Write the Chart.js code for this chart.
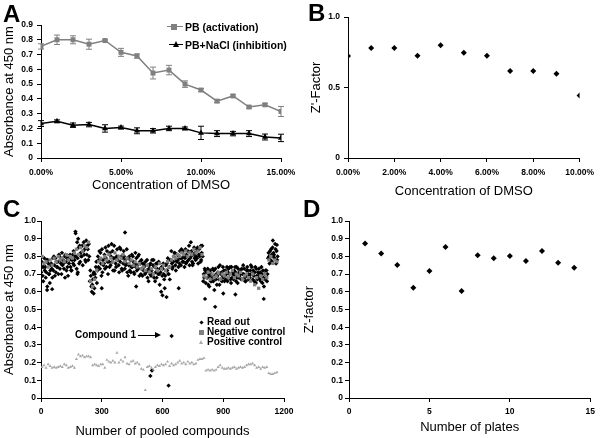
<!DOCTYPE html>
<html>
<head>
<meta charset="utf-8">
<script src="https://cdn.jsdelivr.net/npm/chart.js@4.4.0/dist/chart.umd.min.js"></script>
<style>
  html, body { margin: 0; padding: 0; background: #fff; overflow: hidden; }
  #wrap { position: relative; width: 600px; height: 438px; font-family: "Liberation Sans", Arial, sans-serif; color: #000; }
  canvas { position: absolute; left: 0; top: 0; }
  .letter { position: absolute; font-size: 24px; font-weight: bold; line-height: 24px; }
  .leg { position: absolute; font-weight: bold; white-space: nowrap; }
  .legA { font-size: 10.5px; line-height: 12px; }
  .legC { font-size: 10px; line-height: 10px; }
  .mk { position: absolute; }
  .lineGray { position: absolute; height: 0; border-top: 1.5px solid #808080; }
  .lineBlack { position: absolute; height: 0; border-top: 1.5px solid #000; }
</style>
</head>
<body>
<div id="wrap">
  <canvas id="chartA" width="600" height="438"></canvas>
  <canvas id="chartB" width="600" height="438"></canvas>
  <canvas id="chartC" width="600" height="438"></canvas>
  <canvas id="chartD" width="600" height="438"></canvas>

  <div class="letter" style="left:3px;top:2px;">A</div>
  <div class="letter" style="left:308px;top:1px;">B</div>
  <div class="letter" style="left:3px;top:197px;">C</div>
  <div class="letter" style="left:303px;top:197px;">D</div>

  <!-- legend A -->
  <div class="lineGray" style="left:167px;top:26px;width:16px;"></div>
  <div class="mk" style="left:171px;top:24px;width:6px;height:6px;background:#808080;"></div>
  <div class="leg legA" style="left:185px;top:21px;">PB (activation)</div>
  <div class="lineBlack" style="left:169px;top:44px;width:14px;"></div>
  <div class="mk" style="left:173px;top:41px;width:0;height:0;border-left:3.5px solid transparent;border-right:3.5px solid transparent;border-bottom:6px solid #000;"></div>
  <div class="leg legA" style="left:185px;top:39px;">PB+NaCl (inhibition)</div>

  <!-- legend C -->
  <div class="mk" style="left:200px;top:321px;width:3px;height:3px;background:#000;transform:rotate(45deg);"></div>
  <div class="leg legC" style="left:207px;top:317px;">Read out</div>
  <div class="mk" style="left:199px;top:330px;width:5px;height:5px;background:#808080;"></div>
  <div class="leg legC" style="left:207px;top:327px;">Negative control</div>
  <div class="mk" style="left:199px;top:340px;width:0;height:0;border-left:2.5px solid transparent;border-right:2.5px solid transparent;border-bottom:4px solid #aaa;"></div>
  <div class="leg legC" style="left:207px;top:337px;">Positive control</div>

  <!-- compound 1 annotation -->
  <div class="leg legC" style="left:75px;top:330px;">Compound 1</div>
  <div class="lineBlack" style="left:138px;top:335px;width:18px;border-top-width:1px;"></div>
  <div class="mk" style="left:155px;top:332px;width:0;height:0;border-top:3px solid transparent;border-bottom:3px solid transparent;border-left:6px solid #000;"></div>
</div>

<script>
// ---------- Panel A: absorbance vs DMSO ----------
const dmsoA = [0, 1, 2, 3, 4, 5, 6, 7, 8, 9, 10, 11, 12, 13, 14, 15];
const pbActivation = [0.755, 0.80, 0.80, 0.77, 0.795, 0.715, 0.69, 0.575, 0.595, 0.50, 0.46, 0.385, 0.42, 0.345, 0.36, 0.315];
const pbActivationErr = [0.018, 0.032, 0.027, 0.034, 0.005, 0.027, 0.014, 0.04, 0.032, 0.022, 0.01, 0.01, 0.008, 0.008, 0.008, 0.034];
const pbInhibition = [0.233, 0.248, 0.222, 0.226, 0.20, 0.206, 0.184, 0.184, 0.20, 0.20, 0.17, 0.165, 0.165, 0.165, 0.142, 0.136];
const pbInhibitionErr = [0.02, 0.01, 0.015, 0.015, 0.025, 0.01, 0.02, 0.015, 0.015, 0.01, 0.045, 0.02, 0.015, 0.02, 0.02, 0.025];

// ---------- Panel B: Z'-factor vs DMSO ----------
const dmsoB = [0, 1, 2, 3, 4, 5, 6, 7, 8, 9, 10];
const zFactorDmso = [0.723, 0.78, 0.78, 0.725, 0.80, 0.747, 0.725, 0.617, 0.617, 0.598, 0.444];

// ---------- Panel C: screening read-out ----------
// read-out values per bin of 10 compounds (bins 0..116), four wells per bin
const readOutA = [
  0.71, 0.66, 0.74, 0.63, 0.70, 0.76, 0.72, 0.79, 0.74, 0.80,
  0.70, 0.76, 0.81, 0.74, 0.78, 0.72, 0.83, 0.93, 0.79, 0.86,
  0.80, 0.88, 0.77, 0.84, 0.66, 0.60, 0.71, 0.74, 0.80, 0.73,
  0.84, 0.76, 0.79, 0.70, 0.82, 0.77, 0.86, 0.74, 0.80, 0.77,
  0.72, 0.80, 0.76, 0.69, 0.78, 0.74, 0.70, 0.79, 0.73, 0.76,
  0.69, 0.75, 0.72, 0.66, 0.76, 0.70, 0.74, 0.68, 0.77, 0.71,
  0.73, 0.62, 0.76, 0.70, 0.78, 0.74, 0.82, 0.77, 0.80, 0.75,
  0.83, 0.79, 0.77, 0.86, 0.80, 0.76, 0.82, 0.79, 0.84, 0.78,
  0.66, 0.72, 0.68, 0.63, 0.70, 0.66, 0.73, 0.69, 0.64, 0.71,
  0.68, 0.72, 0.66, 0.70, 0.74, 0.67, 0.71, 0.65, 0.69, 0.73,
  0.70, 0.66, 0.72, 0.68, 0.74, 0.69, 0.65, 0.71, 0.67, 0.70,
  0.63, 0.68, 0.79, 0.83, 0.77, 0.81, 0.76
];
const readOutB = [
  0.77, 0.74, 0.68, 0.78, 0.65, 0.73, 0.80, 0.71, 0.77, 0.73,
  0.82, 0.73, 0.77, 0.69, 0.81, 0.78, 0.75, 0.80, 0.90, 0.77,
  0.86, 0.81, 0.89, 0.78, 0.72, 0.64, 0.62, 0.77, 0.74, 0.82,
  0.71, 0.81, 0.74, 0.86, 0.75, 0.83, 0.72, 0.80, 0.75, 0.84,
  0.79, 0.73, 0.84, 0.75, 0.71, 0.80, 0.76, 0.72, 0.81, 0.70,
  0.76, 0.70, 0.78, 0.73, 0.69, 0.75, 0.66, 0.73, 0.70, 0.60,
  0.76, 0.69, 0.72, 0.74, 0.83, 0.77, 0.75, 0.81, 0.76, 0.84,
  0.77, 0.84, 0.80, 0.75, 0.83, 0.81, 0.78, 0.85, 0.80, 0.82,
  0.70, 0.65, 0.73, 0.69, 0.66, 0.72, 0.67, 0.71, 0.75, 0.66,
  0.72, 0.67, 0.71, 0.74, 0.68, 0.72, 0.66, 0.73, 0.70, 0.67,
  0.73, 0.69, 0.67, 0.72, 0.70, 0.66, 0.73, 0.68, 0.71, 0.65,
  0.70, 0.72, 0.82, 0.78, 0.85, 0.79, 0.83
];
const readOutC = [
  0.74, 0.79, 0.71, 0.76, 0.72, 0.68, 0.75, 0.77, 0.70, 0.78,
  0.75, 0.80, 0.72, 0.79, 0.74, 0.81, 0.78, 0.73, 0.85, 0.82,
  0.75, 0.84, 0.81, 0.87, 0.69, 0.67, 0.70, 0.65, 0.78, 0.76,
  0.78, 0.73, 0.83, 0.77, 0.80, 0.72, 0.79, 0.84, 0.71, 0.80,
  0.76, 0.78, 0.71, 0.80, 0.74, 0.77, 0.82, 0.75, 0.69, 0.78,
  0.72, 0.77, 0.68, 0.75, 0.72, 0.78, 0.71, 0.76, 0.64, 0.74,
  0.70, 0.75, 0.79, 0.67, 0.76, 0.80, 0.72, 0.78, 0.83, 0.79,
  0.80, 0.76, 0.83, 0.79, 0.77, 0.85, 0.80, 0.76, 0.81, 0.86,
  0.68, 0.71, 0.64, 0.72, 0.68, 0.61, 0.70, 0.74, 0.67, 0.69,
  0.66, 0.70, 0.73, 0.67, 0.71, 0.69, 0.74, 0.68, 0.72, 0.70,
  0.68, 0.72, 0.70, 0.75, 0.67, 0.71, 0.69, 0.73, 0.66, 0.72,
  0.67, 0.66, 0.80, 0.84, 0.80, 0.87, 0.78
];
const readOutD = [
  0.69, 0.72, 0.78, 0.70, 0.75, 0.79, 0.69, 0.74, 0.81, 0.76,
  0.78, 0.68, 0.79, 0.76, 0.72, 0.76, 0.80, 0.88, 0.76, 0.80,
  0.83, 0.78, 0.86, 0.80, 0.63, 0.70, 0.68, 0.72, 0.83, 0.69,
  0.75, 0.85, 0.77, 0.74, 0.87, 0.79, 0.76, 0.78, 0.85, 0.73,
  0.83, 0.75, 0.79, 0.72, 0.81, 0.71, 0.74, 0.80, 0.77, 0.73,
  0.74, 0.71, 0.75, 0.70, 0.78, 0.68, 0.76, 0.70, 0.73, 0.69,
  0.67, 0.72, 0.70, 0.78, 0.73, 0.82, 0.78, 0.74, 0.79, 0.77,
  0.74, 0.81, 0.78, 0.82, 0.75, 0.79, 0.84, 0.81, 0.77, 0.80,
  0.73, 0.68, 0.70, 0.66, 0.73, 0.69, 0.64, 0.67, 0.70, 0.74,
  0.69, 0.74, 0.68, 0.65, 0.70, 0.74, 0.68, 0.71, 0.67, 0.75,
  0.66, 0.74, 0.69, 0.70, 0.72, 0.74, 0.67, 0.70, 0.74, 0.68,
  0.72, 0.70, 0.76, 0.81, 0.82, 0.84, 0.80
];
// isolated read-out points [compound, absorbance]
const readOutExtra = [
  [30, 0.61], [55, 0.615], [170, 0.94], [180, 0.70], [182, 0.71], [260, 0.59], [300, 0.62],
  [415, 0.935], [470, 0.63], [600, 0.58], [620, 0.57], [540, 0.125], [548, 0.155], [630, 0.07],
  [645, 0.35], [680, 0.62], [740, 0.88], [790, 0.86], [810, 0.56], [860, 0.515], [900, 0.59],
  [960, 0.585], [1100, 0.56], [1145, 0.89], [1165, 0.865]
];
const negControl = [
  0.80, 0.76, 0.77, 0.74, 0.78, 0.75, 0.79, 0.77, 0.80, 0.78,
  0.79, 0.77, 0.81, 0.78, 0.80, 0.79, 0.82, 0.84, 0.81, 0.85,
  0.83, 0.86, 0.85, 0.88, 0.66, 0.63, 0.67, 0.72, 0.77, 0.79,
  0.76, 0.80, 0.78, 0.81, 0.79, 0.77, 0.82, 0.78, 0.80, 0.79,
  0.81, 0.77, 0.79, 0.76, 0.78, 0.75, 0.77, 0.74, 0.76, 0.73,
  0.74, 0.72, 0.75, 0.71, 0.73, 0.70, 0.74, 0.72, 0.76, 0.73,
  0.75, 0.72, 0.77, 0.74, 0.78, 0.80, 0.79, 0.81, 0.80, 0.82,
  0.81, 0.83, 0.80, 0.82, 0.81, 0.84, 0.82, 0.83, 0.85, 0.81,
  0.69, 0.68, 0.71, 0.67, 0.70, 0.68, 0.69, 0.71, 0.67, 0.70,
  0.69, 0.71, 0.68, 0.70, 0.72, 0.68, 0.70, 0.69, 0.71, 0.67,
  0.69, 0.70, 0.68, 0.66, 0.70, 0.64, 0.68, 0.62, 0.69, 0.67,
  0.70, 0.68, 0.78, 0.80, 0.76, 0.78, 0.77
];
const posControl = [
  0.175, 0.185, 0.17, 0.19, 0.18, 0.17, 0.175, 0.17, 0.175, 0.18,
  0.175, 0.19, 0.185, 0.17, 0.175, 0.18, 0.17, 0.22, 0.245, 0.235,
  0.24, 0.23, 0.235, 0.235, 0.23, 0.185, 0.19, 0.185, 0.18, 0.19,
  0.19, 0.17, 0.215, 0.205, 0.20, 0.21, 0.20, 0.255, 0.20, 0.215,
  0.205, 0.23, 0.195, 0.19, 0.205, 0.21, 0.195, 0.20, 0.19, 0.165,
  0.16, 0.045, 0.175, 0.18, 0.17, 0.16, 0.175, 0.185, 0.18, 0.19,
  0.185, 0.19, 0.205, 0.18, 0.195, 0.185, 0.19, 0.20, 0.21, 0.195,
  0.20, 0.19, 0.205, 0.195, 0.20, 0.19, 0.195, 0.215, 0.22, 0.22,
  0.225, 0.155, 0.16, 0.155, 0.16, 0.155, 0.16, 0.175, 0.185, 0.17,
  0.165, 0.165, 0.17, 0.165, 0.17, 0.175, 0.165, 0.17, 0.175, 0.17,
  0.175, 0.185, 0.19, 0.19, 0.195, 0.185, 0.17, 0.175, 0.165, 0.175,
  0.17, 0.175, 0.14, 0.135, 0.135, 0.14, 0.145
];

// ---------- Panel D: Z'-factor per plate ----------
const plates = [1, 2, 3, 4, 5, 6, 7, 8, 9, 10, 11, 12, 13, 14];
const zFactorPlates = [0.873, 0.817, 0.751, 0.623, 0.717, 0.853, 0.604, 0.806, 0.789, 0.802, 0.774, 0.83, 0.764, 0.736];

Chart.defaults.font.family = '"Liberation Sans", Arial, sans-serif';
Chart.defaults.color = '#000';
Chart.defaults.animation = false;

const tickFont = { size: 8.5, weight: 'bold' };
const titleFont = { size: 13 };

// draw vertical error bars from dataset.errors
const errorBars = {
  id: 'errorBars',
  beforeDatasetsDraw(chart) {
    const ctx = chart.ctx;
    const xs = chart.scales.x, ys = chart.scales.y;
    chart.data.datasets.forEach(ds => {
      if (!ds.errors) return;
      ctx.save();
      ctx.strokeStyle = ds.borderColor;
      ctx.lineWidth = 1;
      ds.data.forEach((p, j) => {
        const e = ds.errors[j];
        const x = xs.getPixelForValue(p.x);
        const y1 = ys.getPixelForValue(p.y - e);
        const y2 = ys.getPixelForValue(p.y + e);
        ctx.beginPath();
        ctx.moveTo(x, y1); ctx.lineTo(x, y2);
        ctx.moveTo(x - 3, y1); ctx.lineTo(x + 3, y1);
        ctx.moveTo(x - 3, y2); ctx.lineTo(x + 3, y2);
        ctx.stroke();
      });
      ctx.restore();
    });
  }
};

function pts(xs, ys) {
  return xs.map((x, i) => ({ x: x, y: ys[i] }));
}
function binPts(vals, offset) {
  return vals.map((v, i) => ({ x: i * 10 + offset, y: v }));
}

// area = [left, top, right, bottom] of the plot, yBoxLeft = left of y axis box
function layout(area, yBoxLeft, xBoxH) {
  return {
    padding: { left: yBoxLeft, top: area[1], right: 600 - area[2], bottom: 438 - area[3] - xBoxH }
  };
}

function yAxis(min, max, step, title, width, tickPad) {
  return {
    type: 'linear', min: min, max: max,
    ticks: { stepSize: step, font: tickFont, padding: tickPad, color: '#000' },
    grid: { drawOnChartArea: false, drawTicks: true, tickLength: 4, color: '#000' },
    border: { color: '#000', width: 1 },
    title: { display: true, text: title, font: titleFont, color: '#000', padding: { top: 2, bottom: 0 } },
    afterFit: s => { s.width = width; }
  };
}

function xAxis(min, max, step, title, height, titlePad, fmt, tickPad) {
  return {
    type: 'linear', min: min, max: max,
    ticks: { stepSize: step, font: tickFont, padding: tickPad, color: '#000', maxRotation: 0, autoSkip: false, callback: fmt },
    grid: { drawOnChartArea: false, drawTicks: true, tickLength: 4, color: '#000' },
    border: { color: '#000', width: 1 },
    title: { display: true, text: title, font: titleFont, color: '#000', padding: { top: 0, bottom: titlePad } },
    afterFit: s => { s.height = height; }
  };
}

const commonOpts = {
  responsive: false,
  plugins: { legend: { display: false }, tooltip: { enabled: false } }
};

// Panel A
new Chart(document.getElementById('chartA'), {
  type: 'line',
  data: {
    datasets: [
      {
        label: 'PB (activation)',
        data: pts(dmsoA, pbActivation),
        errors: pbActivationErr,
        borderColor: '#808080', backgroundColor: '#808080', borderWidth: 1.5,
        pointStyle: 'rect', pointRadius: 3.5, pointBackgroundColor: '#808080', pointBorderWidth: 0
      },
      {
        label: 'PB+NaCl (inhibition)',
        data: pts(dmsoA, pbInhibition),
        errors: pbInhibitionErr,
        borderColor: '#000', backgroundColor: '#000', borderWidth: 1.5,
        pointStyle: 'triangle', pointRadius: 3.5, pointBackgroundColor: '#000', pointBorderWidth: 0
      }
    ]
  },
  options: Object.assign({}, commonOpts, {
    layout: layout([41, 25, 281, 158], 0, 37),
    scales: {
      x: xAxis(0, 15, 5, 'Concentration of DMSO', 37, 2, v => v.toFixed(2) + '%', 6),
      y: yAxis(0, 0.9, 0.1, 'Absorbance at 450 nm', 41, 4)
    }
  }),
  plugins: [errorBars]
});

// Panel B
new Chart(document.getElementById('chartB'), {
  type: 'scatter',
  data: {
    datasets: [{
      label: "Z'-Factor",
      data: pts(dmsoB, zFactorDmso),
      pointStyle: 'rectRot', pointRadius: 3, backgroundColor: '#000', borderColor: '#000', pointBorderWidth: 0
    }]
  },
  options: Object.assign({}, commonOpts, {
    layout: layout([348, 17, 583, 158], 307, 43),
    scales: {
      x: xAxis(0, 10, 2, 'Concentration of DMSO', 43, 2, v => v.toFixed(2) + '%', 6),
      y: yAxis(0, 1, 0.5, "Z'-Factor", 41, 4)
    }
  })
});

// Panel C
new Chart(document.getElementById('chartC'), {
  type: 'scatter',
  data: {
    datasets: [
      {
        label: 'Negative control', order: 0,
        data: binPts(negControl, 5),
        pointStyle: 'rect', pointRadius: 2.3, backgroundColor: '#808080', borderColor: '#808080', pointBorderWidth: 0
      },
      {
        label: 'Positive control', order: 0,
        data: binPts(posControl, 5),
        pointStyle: 'triangle', pointRadius: 1.8, backgroundColor: '#a8a8a8', borderColor: '#a8a8a8', pointBorderWidth: 0
      },
      {
        label: 'Read out', order: 1,
        data: binPts(readOutA, 1).concat(binPts(readOutB, 3.5), binPts(readOutC, 6), binPts(readOutD, 8.5),
          readOutExtra.map(p => ({ x: p[0], y: p[1] }))),
        pointStyle: 'rectRot', pointRadius: 2.2, backgroundColor: '#000', borderColor: '#000', pointBorderWidth: 0
      }
    ]
  },
  options: Object.assign({}, commonOpts, {
    layout: layout([41, 221, 284, 398], 0, 40),
    scales: {
      x: xAxis(0, 1200, 300, 'Number of pooled compounds', 40, -1.5, v => v, 5),
      y: yAxis(0, 1, 0.1, 'Absorbance at 450 nm', 41, 1)
    }
  })
});

// Panel D
new Chart(document.getElementById('chartD'), {
  type: 'scatter',
  data: {
    datasets: [{
      label: "Z'-factor",
      data: pts(plates, zFactorPlates),
      pointStyle: 'rectRot', pointRadius: 3, backgroundColor: '#000', borderColor: '#000', pointBorderWidth: 0
    }]
  },
  options: Object.assign({}, commonOpts, {
    layout: layout([349, 221, 593, 398], 300, 40),
    scales: {
      x: xAxis(0, 15, 5, 'Number of plates', 40, 2.5, v => v, 5),
      y: yAxis(0, 1, 0.1, "Z'-factor", 49, 2)
    }
  })
});
</script>
</body>
</html>
